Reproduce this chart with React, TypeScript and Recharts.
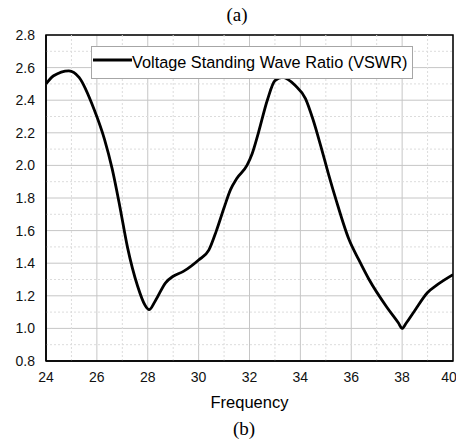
import {
  CartesianGrid,
  Line,
  LineChart,
  ReferenceArea,
  ReferenceLine,
  XAxis,
  YAxis,
} from "recharts";

// frequency (GHz) and VSWR
const frequency = [
  24.0, 24.3, 24.9, 25.3, 25.9, 26.3, 26.6, 26.9, 27.2, 27.6, 27.9, 28.05, 28.3, 28.7,
  29.0, 29.4, 30.0, 30.4, 30.7, 31.0, 31.25, 31.5, 31.9, 32.1, 32.35, 32.7, 33.0, 33.3,
  33.8, 34.2, 34.5, 34.8, 35.1, 35.4, 35.9, 36.3, 36.7, 37.4, 37.85, 38.0, 38.15, 38.5,
  39.0, 39.4, 40.0,
];
const vswr = [
  2.5, 2.55, 2.58, 2.54, 2.34, 2.16, 1.98, 1.75, 1.5, 1.26, 1.14, 1.115, 1.17, 1.28,
  1.32, 1.35, 1.42, 1.48, 1.6, 1.74, 1.85, 1.92, 2.0, 2.07, 2.2, 2.4, 2.52, 2.54,
  2.49, 2.41, 2.28, 2.12, 1.95, 1.79, 1.55, 1.42, 1.3, 1.13, 1.035, 1.0, 1.03, 1.11,
  1.22, 1.27, 1.33,
];

const xTicks = [24, 26, 28, 30, 32, 34, 36, 38, 40];
const yTicks = [0.8, 1.0, 1.2, 1.4, 1.6, 1.8, 2.0, 2.2, 2.4, 2.6, 2.8];
const xMinor = [25, 27, 29, 31, 33, 35, 37, 39];
const yMinor = [0.9, 1.1, 1.3, 1.5, 1.7, 1.9, 2.1, 2.3, 2.5, 2.7];

const SERIES_NAME = "Voltage Standing Wave Ratio (VSWR)";

const data = frequency.map((f, i) => ({ f, v: vswr[i] }));

const SANS = "'Liberation Sans', Arial, sans-serif";
const SERIF = "'Liberation Serif', 'Times New Roman', serif";

function LegendBox() {
  return (
    <div
      style={{
        position: "absolute",
        left: 91,
        top: 46,
        width: 322,
        boxSizing: "border-box",
        height: 33,
        border: "1px solid #a6a6a6",
        background: "#fff",
        display: "flex",
        alignItems: "center",
        paddingLeft: 1,
        fontFamily: SANS,
        fontSize: 16.3,
        color: "#000",
        whiteSpace: "nowrap",
      }}
    >
      <svg width={39} height={6} style={{ marginTop: -6 }}>
        <line x1={0} y1={3} x2={39} y2={3} stroke="#000" strokeWidth={3} />
      </svg>
      <span style={{ marginTop: -1 }}>{SERIES_NAME}</span>
    </div>
  );
}

export default function App() {
  return (
    <div
      style={{
        position: "absolute",
        left: 0,
        top: 0,
        width: 456,
        height: 443,
        background: "#fff",
        overflow: "hidden",
      }}
    >
      <div
        style={{
          position: "absolute",
          left: 0,
          width: 474,
          top: 4,
          textAlign: "center",
          fontFamily: SERIF,
          fontSize: 19,
        }}
      >
        (a)
      </div>

      <LineChart
        width={456}
        height={443}
        data={data}
        margin={{ top: 35, right: 3, bottom: 52, left: 0 }}
        style={{ position: "absolute", left: 0, top: 0 }}
      >
        <CartesianGrid stroke="#c6c6c6" strokeWidth={1} />
        {xMinor.map((x) => (
          <ReferenceLine key={"x" + x} x={x} stroke="#dcdcdc" strokeDasharray="2 2" />
        ))}
        {yMinor.map((y) => (
          <ReferenceLine key={"y" + y} y={y} stroke="#dcdcdc" strokeDasharray="2 2" />
        ))}
        <XAxis
          dataKey="f"
          type="number"
          domain={[24, 40]}
          ticks={xTicks}
          height={30}
          tickLine={false}
          tickSize={6}
          tickMargin={5}
          axisLine={{ stroke: "#000", strokeWidth: 1.5 }}
          tick={{ fill: "#111", fontSize: 14, fontFamily: SANS }}
          allowDataOverflow
        />
        <YAxis
          type="number"
          domain={[0.8, 2.8]}
          ticks={yTicks}
          width={46}
          tickLine={false}
          tickSize={6}
          tickMargin={5}
          tickFormatter={(v: number) => v.toFixed(1)}
          axisLine={{ stroke: "#000", strokeWidth: 1.5 }}
          tick={{ fill: "#111", fontSize: 14, fontFamily: SANS }}
          allowDataOverflow
        />
        <ReferenceArea
          x1={24}
          x2={40}
          y1={0.8}
          y2={2.8}
          fill="none"
          fillOpacity={0}
          stroke="#000"
          strokeWidth={1.5}
        />
        <Line
          type="monotone"
          dataKey="v"
          name={SERIES_NAME}
          stroke="#000"
          strokeWidth={2.8}
          dot={false}
          activeDot={false}
          isAnimationActive={false}
        />
      </LineChart>

      <LegendBox />

      <div
        style={{
          position: "absolute",
          left: 46,
          width: 407,
          top: 393,
          textAlign: "center",
          fontFamily: SANS,
          fontSize: 16.5,
          color: "#000",
        }}
      >
        Frequency
      </div>
      <div
        style={{
          position: "absolute",
          left: 0,
          width: 488,
          top: 418,
          textAlign: "center",
          fontFamily: SERIF,
          fontSize: 19,
        }}
      >
        (b)
      </div>
    </div>
  );
}
